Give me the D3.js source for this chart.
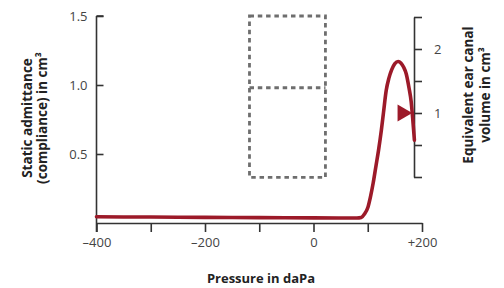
<!DOCTYPE html>
<html><head><meta charset="utf-8">
<script src="https://cdn.jsdelivr.net/npm/d3@7"></script>
<style>
html,body{margin:0;padding:0;background:#fff;}
svg{display:block;}
text{font-family:"Open Sans",sans-serif;}
</style></head>
<body>
<svg id="chart" width="504" height="288"></svg>
<script>
// ---- data ----
const pressureTicks = [-400, -300, -200, -100, 0, 100, 200];
const pressureTickLabels = ["–400", "", "–200", "", "0", "", "+200"];
const admittanceTicks = [0.5, 1.0, 1.5];
const admittanceTickLabels = ["0.5", "1.0", "1.5"];
const volumeTicks = [0, 0.5, 1, 1.5, 2, 2.5];
const volumeTickLabels = ["", "", "1", "", "2", ""];
const curvePressure = [-400, -300, -200, -100, 0, 80, 88, 94, 100, 105, 110, 115, 120, 125, 129, 134, 139, 144, 150, 156, 161, 166, 171, 176, 180, 183, 186];
const curveAdmittance = [0.045, 0.043, 0.041, 0.039, 0.037, 0.036, 0.04, 0.065, 0.11, 0.19, 0.29, 0.41, 0.53, 0.67, 0.80, 0.96, 1.05, 1.11, 1.155, 1.17, 1.16, 1.13, 1.08, 0.98, 0.88, 0.75, 0.60];
const boxPressure = [-118, 22];
const boxAdmittance = [0.33, 0.98, 1.5];
const arrowPressure = [155, 182];
const arrowVolume = [1.0];
const xTitle = "Pressure in daPa";
const leftTitle = ["Static admittance", "(compliance) in cm³"];
const rightTitle = ["Equivalent ear canal", "volume in cm³"];

// ---- drawing ----
const svg = d3.select("#chart");
const x = d3.scaleLinear().domain([-400, 200]).range([96.5, 422]);
const yL = d3.scaleLinear().domain([0, 1.5]).range([223, 16]);
const yR = d3.scaleLinear().domain([0, 2.5]).range([177, 17]);
const axisColor = "#333";
const red = "#9c1a29";

// dashed box
const box = svg.append("g").attr("fill", "none").attr("stroke", "#6e6e6e")
  .attr("stroke-width", 2.8).attr("stroke-dasharray", "4.5,3.8");
box.append("rect")
  .attr("x", x(boxPressure[0])).attr("y", yL(boxAdmittance[2]))
  .attr("width", x(boxPressure[1]) - x(boxPressure[0]))
  .attr("height", yL(boxAdmittance[0]) - yL(boxAdmittance[2]));
box.append("line")
  .attr("x1", x(boxPressure[0])).attr("x2", x(boxPressure[1]))
  .attr("y1", yL(boxAdmittance[1])).attr("y2", yL(boxAdmittance[1]));

// axes
function styleAxis(g) {
  g.selectAll("path").attr("stroke", axisColor).attr("stroke-width", 1.6);
  g.selectAll("line").attr("stroke", axisColor).attr("stroke-width", 1.6);
  g.selectAll("text").attr("fill", "#444").style("font-size", "13px").style("font-family", "'Open Sans',sans-serif");
}
const xAxis = d3.axisBottom(x).tickValues(pressureTicks)
  .tickFormat((d, i) => pressureTickLabels[i]).tickSizeInner(9).tickSizeOuter(0).tickPadding(6);
svg.append("g").attr("transform", `translate(0,${yL(0)})`).call(xAxis).call(styleAxis);

const lAxis = d3.axisLeft(yL).tickValues(admittanceTicks)
  .tickFormat((d, i) => admittanceTickLabels[i]).tickSizeInner(-7).tickSizeOuter(0).tickPadding(9);
const lg = svg.append("g").attr("transform", `translate(${x(-400)},0)`).call(lAxis).call(styleAxis);
lg.select("path.domain").attr("d", `M0,${yL(1.5)}V${yL(0) + 9}`);
lg.append("line").attr("x1", 0).attr("x2", 7).attr("y1", yL(1.5)).attr("y2", yL(1.5))
  .attr("stroke", axisColor).attr("stroke-width", 1.6);

const rAxis = d3.axisRight(yR).tickValues(volumeTicks)
  .tickFormat((d, i) => volumeTickLabels[i]).tickSizeInner(8).tickSizeOuter(0).tickPadding(12);
svg.append("g").attr("transform", "translate(414,0)").call(rAxis).call(styleAxis);

// curve
const pts = curvePressure.map((p, i) => [p, curveAdmittance[i]]);
svg.append("path").datum(pts)
  .attr("fill", "none").attr("stroke", red).attr("stroke-width", 3.6)
  .attr("stroke-linecap", "round").attr("stroke-linejoin", "round")
  .attr("d", d3.line().x(d => x(d[0])).y(d => yL(d[1])).curve(d3.curveMonotoneX));

// arrow
const ay = yR(arrowVolume[0]);
svg.append("path")
  .attr("fill", red)
  .attr("d", `M${x(arrowPressure[0])},${ay - 8.5}L${x(arrowPressure[1])},${ay}L${x(arrowPressure[0])},${ay + 8.5}Z`);

// titles
svg.append("text").attr("x", 261).attr("y", 283).attr("text-anchor", "middle")
  .attr("font-weight", "bold").attr("fill", "#222").style("font-size", "13px").text(xTitle);

const lt = svg.append("g").attr("transform", "translate(0,118) rotate(-90)");
leftTitle.forEach((t, i) => lt.append("text").attr("x", 0).attr("y", 31.5 + i * 15.5)
  .attr("text-anchor", "middle").attr("font-weight", "bold").attr("fill", "#222")
  .style("font-size", "13.5px").text(t));

const rt = svg.append("g").attr("transform", "translate(0,95) rotate(-90)");
rightTitle.forEach((t, i) => rt.append("text").attr("x", 0).attr("y", 472.5 + i * 17)
  .attr("text-anchor", "middle").attr("font-weight", "bold").attr("fill", "#222")
  .style("font-size", "13.5px").text(t));
</script>
</body></html>
